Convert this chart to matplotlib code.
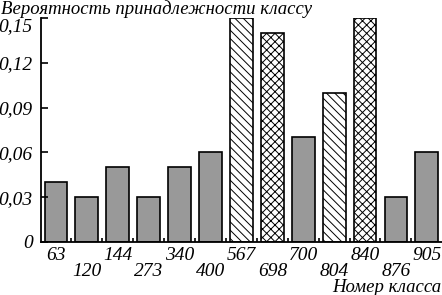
import numpy as np
import matplotlib
matplotlib.use("Agg")
import matplotlib.pyplot as plt

classes = ["63", "120", "144", "273", "340", "400", "567", "698", "700", "804", "840", "876", "905"]
probs = [0.04, 0.03, 0.05, 0.03, 0.05, 0.06, 0.15, 0.14, 0.07, 0.10, 0.15, 0.03, 0.06]
hatches = ["", "", "", "", "", "", "\\\\\\\\", "xxxx", "", "\\\\\\\\", "xxxx", "", ""]
yticks = [0, 0.03, 0.06, 0.09, 0.12, 0.15]
ytick_labels = ["0", "0,03", "0,06", "0,09", "0,12", "0,15"]

plt.rcParams["font.family"] = ["Liberation Serif", "DejaVu Serif"]
plt.rcParams["font.style"] = "italic"
plt.rcParams["hatch.linewidth"] = 0.7

fig = plt.figure(figsize=(4.42, 2.95), dpi=100)
ax = fig.add_axes([41 / 442, 53 / 295, 401 / 442, 224 / 295])

x = np.arange(len(classes))
for i, (v, h) in enumerate(zip(probs, hatches)):
    ax.bar(x[i], v, width=0.74, color="white" if h else "#999999",
           edgecolor="black", linewidth=1.2, hatch=h)

ax.set_xlim(-0.485, 12.49)
ax.set_ylim(0, 0.15)

for s in ["top", "right"]:
    ax.spines[s].set_visible(False)
ax.spines["left"].set_linewidth(1.3)
ax.spines["bottom"].set_linewidth(1.3)

ax.set_yticks(yticks)
ax.set_yticklabels(ytick_labels, fontsize=14)
ax.tick_params(axis="y", direction="in", length=5, width=1.2, pad=6)
# top label sits below its tick, clear of the title
ax.get_yticklabels()[-1].set_verticalalignment("top")

ax.set_xticks(x)
ax.set_xticklabels([])
ax.tick_params(axis="x", which="major", length=0)
ax.set_xticks(x[:-1] + 0.5, minor=True)
ax.tick_params(axis="x", which="minor", direction="in", length=3, width=1.2)

for i, lab in enumerate(classes):
    yoff = -0.009 if i % 2 == 0 else -0.0197
    ax.text(x[i], yoff, lab, ha="center", va="center", fontsize=14, clip_on=False)

fig.text(441 / 442, 1 - 288 / 295, "Номер класса",
         ha="right", va="center", fontsize=13.5)
fig.text(1 / 442, 1 - 9 / 295, "Вероятность принадлежности классу",
         ha="left", va="center", fontsize=13.5)

fig.savefig("out.png", dpi=100)
